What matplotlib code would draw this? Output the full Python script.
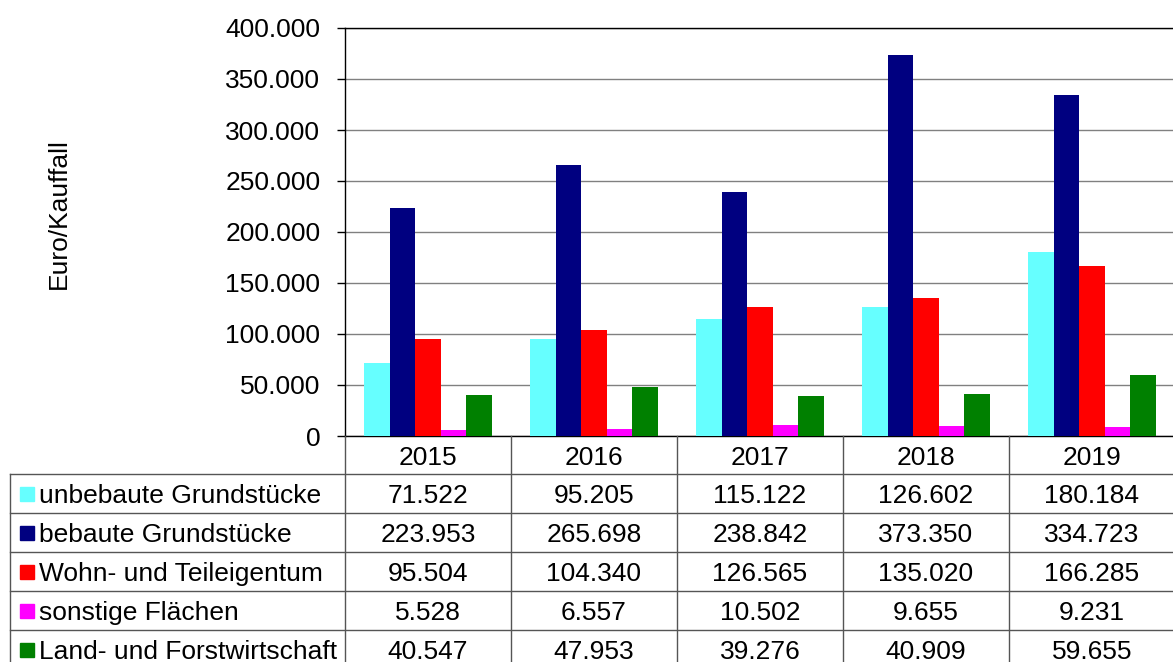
import matplotlib
matplotlib.use("Agg")
import matplotlib.pyplot as plt
from matplotlib.ticker import FuncFormatter, MultipleLocator

plt.rcParams['font.family'] = ['Liberation Sans', 'DejaVu Sans']

years = ["2015", "2016", "2017", "2018", "2019"]
series_names = ["unbebaute Grundstücke", "bebaute Grundstücke", "Wohn- und Teileigentum",
                "sonstige Flächen", "Land- und Forstwirtschaft"]
unbebaute = [71522, 95205, 115122, 126602, 180184]
bebaute = [223953, 265698, 238842, 373350, 334723]
wohn = [95504, 104340, 126565, 135020, 166285]
sonstige = [5528, 6557, 10502, 9655, 9231]
land = [40547, 47953, 39276, 40909, 59655]
series = [unbebaute, bebaute, wohn, sonstige, land]
colors = ["#66FFFF", "#000080", "#FF0000", "#FF00FF", "#008000"]
y_label = "Euro/Kauffall"

W, H = 1173, 662
FS = 19
fig = plt.figure(figsize=(W / 100, H / 100), dpi=100)

def fmt(v):
    return f"{v:,.0f}".replace(",", ".")

# pixel layout
ax_l, ax_r, ax_t, ax_b = 345, 1175, 28, 436
cat_w = (ax_r - ax_l) / len(years)
row_h = 39
head_h = 38
tbl_l = 10
tbl_b = ax_b + head_h + row_h * len(series)
base_off = 9.8  # baseline offset below row centre, px

ax = fig.add_axes([ax_l / W, 1 - ax_b / H, (ax_r - ax_l) / W, (ax_b - ax_t) / H])
bw = 25.5 / cat_w
n = len(series)
for i, (vals, c) in enumerate(zip(series, colors)):
    xs = [k + (i - (n - 1) / 2) * bw for k in range(len(years))]
    ax.bar(xs, vals, width=bw, color=c, zorder=3, linewidth=0)
ax.set_xlim(-0.5, len(years) - 0.5)
ax.set_ylim(0, 400000)
ax.yaxis.set_major_locator(MultipleLocator(50000))
ax.yaxis.set_major_formatter(FuncFormatter(lambda v, p: fmt(v)))
ax.grid(axis='y', color='#808080', linewidth=1, zorder=0)
ax.set_xticks([])
ax.tick_params(axis='y', length=5.8, width=1, pad=12, labelsize=FS, colors='black')
for s in ['left', 'top', 'bottom']:
    ax.spines[s].set_color('black')
    ax.spines[s].set_linewidth(1)
ax.spines['right'].set_visible(False)

fig.text(59 / W, 1 - 214 / H, y_label, rotation=90, ha='center', va='center', fontsize=FS)

# data table
lab_units = (ax_l - tbl_l) / cat_w
tax = fig.add_axes([tbl_l / W, 1 - tbl_b / H, (ax_r - tbl_l) / W, (tbl_b - ax_b) / H])
tax.set_xlim(-0.5 - lab_units, len(years) - 0.5)
tax.set_ylim(tbl_b - ax_b, 0)
tax.axis('off')
lc = '#555555'
x0 = -0.5 - lab_units
x1 = len(years) - 0.5
for r in range(len(series) + 1):
    y = head_h + r * row_h
    tax.plot([x0, x1], [y, y], color=lc, lw=1, clip_on=False)
tax.plot([x0, x0], [head_h, tbl_b - ax_b], color=lc, lw=1, clip_on=False)
for k in range(len(years) + 1):
    xv = -0.5 + k
    tax.plot([xv, xv], [0, tbl_b - ax_b], color=lc, lw=1, clip_on=False)
for k, yr in enumerate(years):
    tax.text(k, head_h / 2 + base_off, yr, ha='center', va='baseline', fontsize=FS)
key_x0 = x0 + 10 / cat_w
key_w = 14 / cat_w
txt_x = x0 + 29 / cat_w
for i, (name, vals, c) in enumerate(zip(series_names, series, colors)):
    yc = head_h + i * row_h + row_h / 2
    tax.add_patch(plt.Rectangle((key_x0, yc - 7), key_w, 14, color=c, clip_on=False))
    tax.text(txt_x, yc + base_off, name, ha='left', va='baseline', fontsize=FS)
    for k, v in enumerate(vals):
        tax.text(k, yc + base_off, fmt(v), ha='center', va='baseline', fontsize=FS)

fig.savefig("out.png", dpi=100)
